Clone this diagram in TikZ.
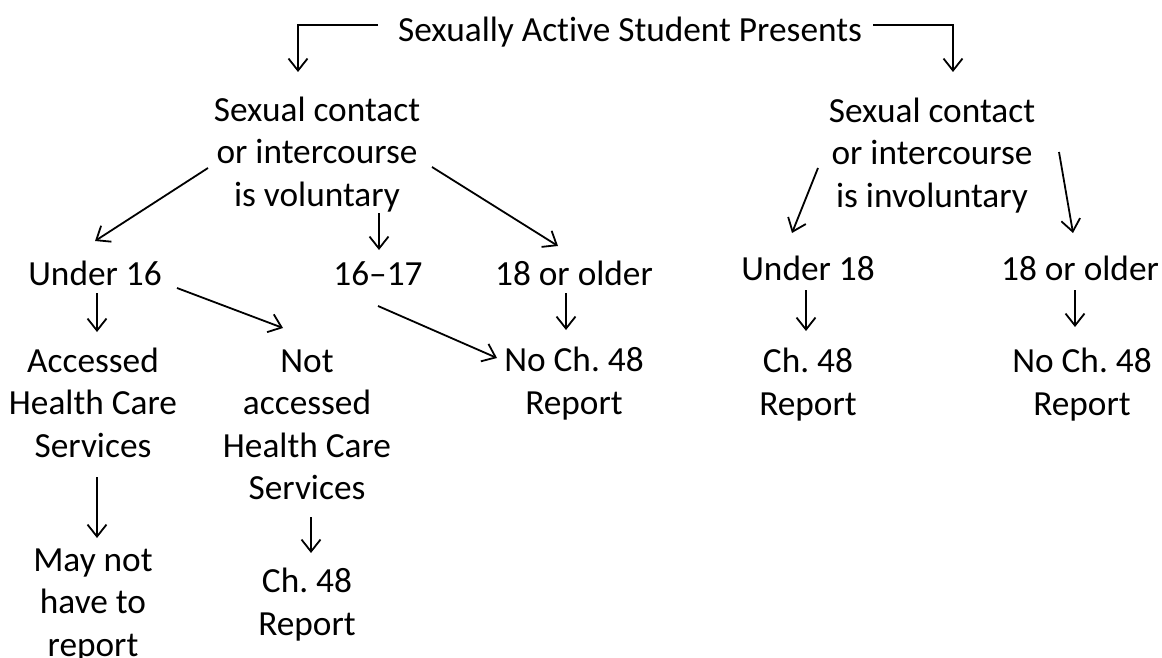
\documentclass[tikz,border=0pt]{standalone}
\usepackage{fontspec}
\setmainfont{Carlito}[Ligatures={NoCommon,NoContextual}]
\usetikzlibrary{arrows.meta,calc}
\frenchspacing
\begin{document}
\begin{tikzpicture}[x=1pt,y=-1pt,
  txt/.style={align=center, inner sep=0pt, font=\fontsize{35.3}{42.5}\selectfont\frenchspacing,
    execute at begin node=\rule{0pt}{38pt}, execute at end node=\strut},
  arr/.style={line width=1.8pt, -{Straight Barb[length=12pt,width=19pt,line width=1.8pt]}}]
\useasboundingbox (0,0) rectangle (1162,658);

\node[txt] (title) at (630,29) {Sexually Active Student Presents};
\node[txt] (vol) at (317,158) {Sexual contact\\or intercourse\\is voluntary};
\node[txt] (invol) at (932,159) {Sexual contact\\or intercourse\\is involuntary};

\node[txt] (u16) at (95,273) {Under 16};
\node[txt] (s1617) at (378,273) {16--17};
\node[txt] (o18a) at (574,273) {18 or older};
\node[txt] (u18) at (808,268) {Under 18};
\node[txt] (o18b) at (1080,268) {18 or older};

\node[txt] (acc) at (93,409) {Accessed\\Health Care\\Services};
\node[txt] (notacc) at (307,431) {Not\\accessed\\Health Care\\Services};
\node[txt] (noch48a) at (574,387) {No Ch. 48\\Report};
\node[txt] (ch48b) at (808,388) {Ch. 48\\Report};
\node[txt] (noch48b) at (1082,388) {No Ch. 48\\Report};

\node[txt] (maynot) at (93,609) {May not\\have to\\report};
\node[txt] (ch48a) at (307,608) {Ch. 48\\Report};

\draw[arr] ($(title)+(-252,-4)$) -| ($(vol)+(-19,-86)$);
\draw[arr] ($(title)+(243,-4)$) -| ($(invol)+(21,-87)$);

\draw[arr] ($(vol)+(-109,10)$) -- ($(u16)+(0,-32)$);
\draw[arr] ($(vol)+(62,55)$) -- ($(s1617)+(1,-23)$);
\draw[arr] ($(vol)+(115,9)$) -- ($(o18a)+(-16,-27)$);

\draw[arr] ($(u16)+(2,20)$) -- ($(acc)+(4,-77)$);
\draw[arr] ($(u16)+(82,15)$) -- ($(notacc)+(-24,-103)$);
\draw[arr] ($(s1617)+(0,33)$) -- ($(noch48a)+(-77,-29)$);
\draw[arr] ($(o18a)+(-8,20)$) -- ($(noch48a)+(-8,-57)$);

\draw[arr] ($(acc)+(4,68)$) -- ($(maynot)+(4,-71)$);
\draw[arr] ($(notacc)+(4,86)$) -- ($(ch48a)+(4,-55)$);

\draw[arr] ($(invol)+(-114,9)$) -- ($(u18)+(-16,-35)$);
\draw[arr] ($(invol)+(127,-7)$) -- ($(o18b)+(-7,-35)$);
\draw[arr] ($(u18)+(-2,22)$) -- ($(ch48b)+(-2,-57)$);
\draw[arr] ($(o18b)+(-5,22)$) -- ($(noch48b)+(-7,-61)$);
\end{tikzpicture}
\end{document}
